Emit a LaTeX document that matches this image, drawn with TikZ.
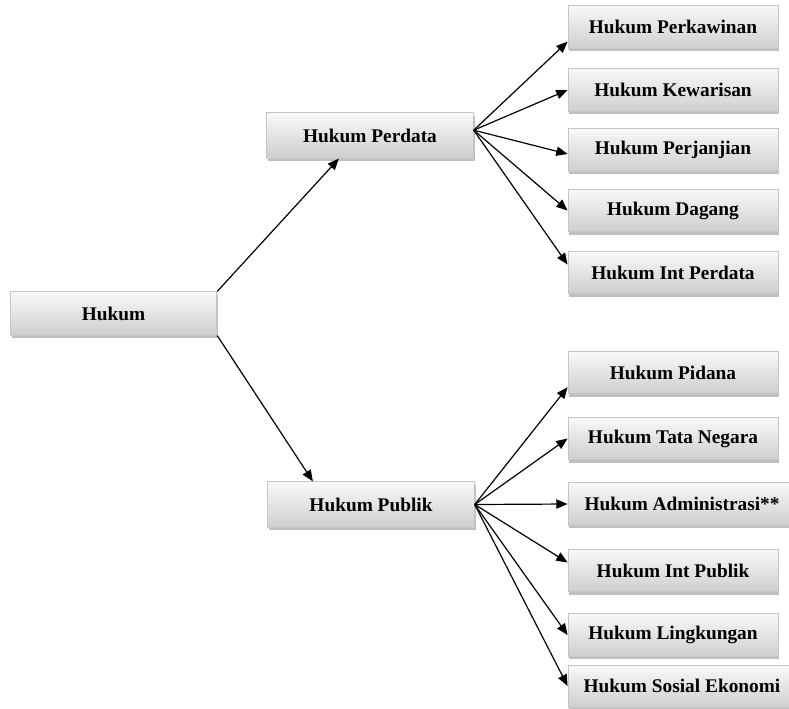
\documentclass[tikz,border=0pt]{standalone}
\usepackage{fontspec}
\setmainfont{Liberation Serif}
\usetikzlibrary{positioning,arrows.meta,calc,shadows}

\begin{document}
\begin{tikzpicture}[x=0.75pt,y=-0.75pt,
  every node/.style={font=\bfseries\fontsize{14.5}{17}\selectfont},
  kotak/.style={rectangle,draw=gray!45,line width=0.6pt,top color=gray!5,bottom color=gray!38,
    minimum width=157.5pt,minimum height=32pt,inner sep=0pt,
    drop shadow={shadow xshift=1pt,shadow yshift=-2pt,opacity=0.5}},
  panah/.style={-{Triangle[length=8.5pt,width=7pt]},line width=0.9pt}]
\useasboundingbox (0,0) rectangle (789,708);
% kiri dan tengah
\node[kotak,minimum width=155pt,minimum height=32.5pt] (hukum) at (113.5,313.5) {Hukum};
\node[kotak,minimum width=155pt,minimum height=34pt] (perdata) at (370,135.5) {Hukum Perdata};
\node[kotak,minimum width=155pt,minimum height=34pt] (publik) at (371,504.5) {Hukum Publik};
% cabang perdata
\node[kotak] (perkawinan) at (673,27) {Hukum Perkawinan};
\node[kotak] (kewarisan) at (673,90) {Hukum Kewarisan};
\node[kotak] (perjanjian) at (673,150) {Hukum Perjanjian};
\node[kotak] (dagang) at (673,210.5) {Hukum Dagang};
\node[kotak] (intperdata) at (673,272.5) {Hukum Int Perdata};
% cabang publik
\node[kotak] (pidana) at (673,372.5) {Hukum Pidana};
\node[kotak] (tatanegara) at (673,438.5) {Hukum Tata Negara};
\node[kotak,minimum width=171pt] (administrasi) at (682,504) {Hukum Administrasi**};
\node[kotak] (intpublik) at (673,570.5) {Hukum Int Publik};
\node[kotak] (lingkungan) at (673,635) {Hukum Lingkungan};
\node[kotak,minimum width=171pt,minimum height=31.5pt] (sosial) at (682,686) {Hukum Sosial Ekonomi};
% panah
\draw[panah] (hukum.north east) -- ($(perdata.south west)!.35!(perdata.south east)$);
\draw[panah] (hukum.south east) -- ($(publik.north west)!.22!(publik.north east)$);
\draw[panah] ([yshift=4pt]perdata.east) -- ([yshift=-11pt]perkawinan.west);
\draw[panah] ([yshift=4pt]perdata.east) -- (kewarisan.west);
\draw[panah] ([yshift=4pt]perdata.east) -- ([yshift=-3pt]perjanjian.west);
\draw[panah] ([yshift=4pt]perdata.east) -- (dagang.west);
\draw[panah] ([yshift=4pt]perdata.east) -- ([yshift=6pt]intperdata.west);
\draw[panah] (publik.east) -- ([yshift=-11pt]pidana.west);
\draw[panah] (publik.east) -- (tatanegara.west);
\draw[panah] (publik.east) -- (administrasi.west);
\draw[panah] (publik.east) -- ([yshift=6pt]intpublik.west);
\draw[panah] (publik.east) -- (lingkungan.west);
\draw[panah] (publik.east) -- (sosial.west);
\end{tikzpicture}
\end{document}
